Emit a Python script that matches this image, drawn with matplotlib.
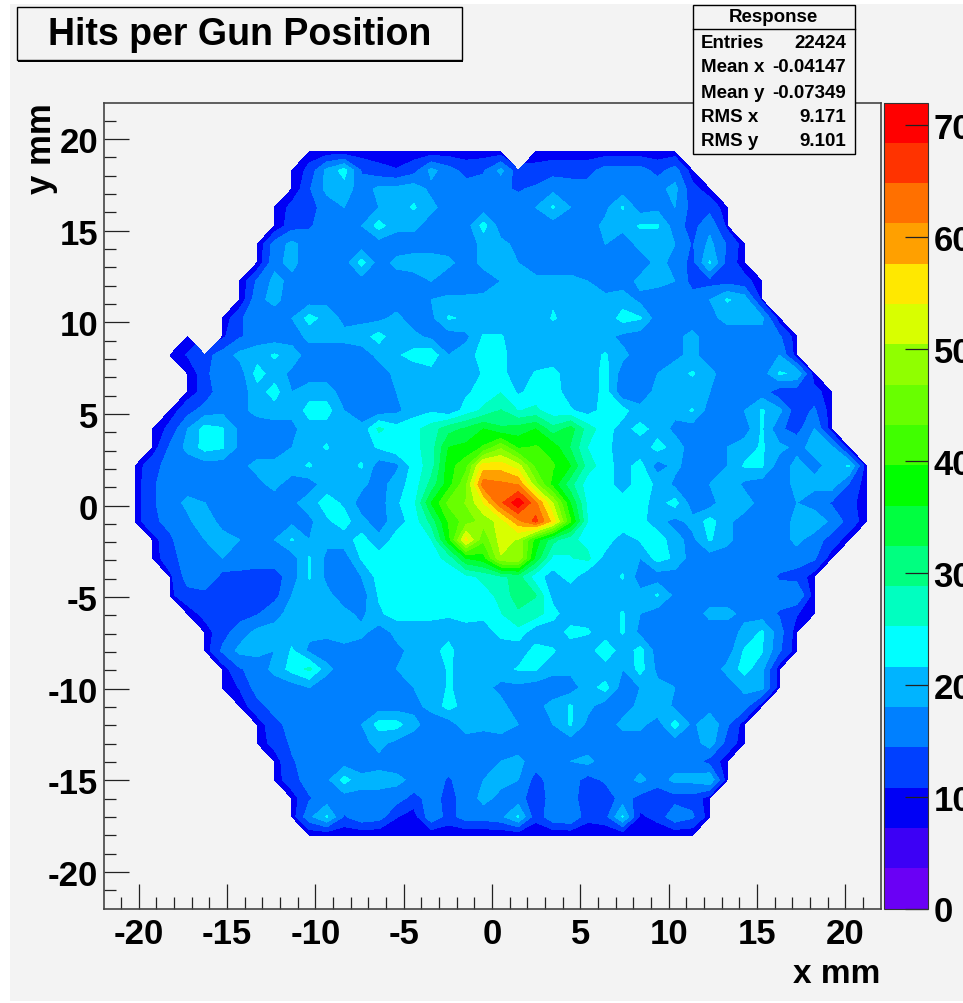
# Hits per gun position, contour map with stats box

import numpy as np
import matplotlib
matplotlib.use('Agg')
import matplotlib.pyplot as plt
from matplotlib.patches import Rectangle

plt.rcParams['font.family'] = ['Liberation Sans', 'DejaVu Sans']
plt.rcParams['font.weight'] = 'bold'
plt.rcParams['axes.unicode_minus'] = False

W, H = 963, 1004
BG = '#f3f3f3'

x_first, x_last, n_cols = -20.2, 21.2, 43
y_first, y_last = 19.3, -18.0

# first filled bin of each row, 0 inside a row is an empty bin
first_bin = [10, 9, 9, 8, 8, 7, 7, 6, 6, 5, 3, 2, 3, 3, 2, 1, 1, 0, 0, 0,
             0, 1, 1, 2, 2, 3, 4, 4, 5, 5, 6, 7, 7, 8, 8, 9, 9, 10]

hits_rows = [
    [9, 9, 9, 9, 9, 9, 9, 9, 9, 9, 9, 9, 0, 9, 9, 9, 9, 9, 9, 9, 9, 9],
    [8, 12, 19, 23, 14, 12, 11, 13, 19, 16, 13, 14, 19, 12, 12, 13, 13, 13, 16, 16, 16, 13, 16, 9],
    [8, 14, 19, 20, 16, 19, 19, 20, 17, 16, 16, 16, 15, 14, 15, 17, 16, 16, 16, 16, 16, 17, 19, 12, 9],
    [8, 12, 13, 16, 18, 16, 18, 20, 22, 19, 16, 16, 16, 16, 16, 18, 22, 18, 16, 17, 22, 16, 17, 18, 13, 13, 9],
    [8, 13, 14, 16, 18, 18, 23, 19, 19, 16, 16, 16, 23, 16, 16, 16, 16, 16, 16, 19, 19, 22, 22, 16, 13, 17, 10],
    [8, 16, 19, 16, 16, 16, 16, 16, 16, 16, 16, 16, 16, 19, 19, 17, 16, 16, 16, 16, 18, 16, 19, 19, 18, 14, 19, 14, 9],
    [8, 17, 19, 16, 16, 16, 23, 16, 19, 20, 20, 19, 16, 19, 19, 18, 16, 16, 16, 16, 18, 16, 16, 19, 17, 13, 22, 13, 9],
    [8, 15, 19, 17, 16, 16, 16, 16, 16, 16, 16, 18, 15, 15, 16, 18, 19, 19, 19, 19, 18, 16, 16, 19, 19, 18, 13, 13, 13, 12, 9],
    [8, 17, 19, 16, 16, 17, 16, 16, 16, 16, 16, 18, 19, 19, 19, 19, 19, 21, 21, 20, 19, 19, 20, 17, 16, 16, 16, 18, 22, 20, 10],
    [8, 14, 16, 16, 18, 23, 20, 17, 17, 17, 19, 16, 17, 22, 21, 19, 19, 19, 19, 22, 20, 19, 19, 23, 22, 16, 16, 16, 17, 19, 19, 19, 9],
    [9, 0, 10, 14, 16, 16, 16, 19, 19, 19, 20, 23, 19, 19, 17, 16, 17, 22, 22, 19, 19, 19, 19, 19, 19, 17, 16, 16, 17, 19, 16, 16, 16, 16, 15, 9],
    [9, 11, 13, 16, 19, 20, 22, 20, 16, 16, 16, 16, 19, 21, 23, 24, 18, 20, 23, 23, 19, 19, 19, 19, 20, 22, 19, 16, 16, 17, 19, 16, 16, 16, 16, 18, 9],
    [8, 13, 18, 16, 23, 20, 17, 16, 16, 16, 16, 16, 19, 19, 20, 20, 19, 22, 23, 19, 22, 23, 19, 19, 23, 16, 16, 18, 20, 22, 19, 16, 16, 16, 22, 21, 9],
    [9, 12, 17, 16, 20, 23, 18, 20, 20, 16, 16, 16, 18, 19, 20, 20, 21, 23, 25, 21, 23, 23, 20, 19, 23, 15, 16, 19, 19, 19, 18, 16, 15, 16, 12, 12, 12, 9],
    [9, 13, 16, 17, 17, 19, 20, 19, 23, 23, 18, 16, 16, 17, 20, 21, 19, 23, 26, 29, 25, 26, 23, 22, 20, 23, 23, 19, 19, 19, 22, 16, 16, 18, 22, 19, 12, 15, 9],
    [8, 12, 18, 23, 22, 17, 16, 16, 17, 20, 20, 21, 19, 26, 23, 24, 27, 31, 33, 36, 33, 34, 36, 30, 34, 27, 23, 20, 23, 20, 17, 16, 16, 17, 16, 22, 15, 13, 18, 9],
    [9, 15, 19, 23, 22, 17, 16, 16, 18, 20, 22, 18, 20, 22, 24, 24, 27, 36, 37, 40, 46, 39, 40, 38, 32, 25, 23, 19, 19, 23, 20, 16, 16, 18, 20, 22, 19, 17, 19, 19, 9],
    [9, 13, 16, 16, 16, 16, 17, 19, 19, 20, 22, 19, 20, 22, 16, 17, 23, 27, 38, 42, 56, 56, 52, 42, 40, 36, 27, 23, 20, 23, 16, 19, 16, 17, 18, 22, 22, 16, 19, 17, 19, 22, 9],
    [9, 14, 16, 16, 16, 16, 16, 17, 19, 16, 16, 20, 21, 19, 16, 20, 23, 30, 38, 46, 63, 62, 61, 48, 38, 30, 23, 23, 20, 23, 21, 17, 16, 18, 21, 17, 16, 16, 19, 19, 20, 14, 9],
    [9, 14, 16, 19, 18, 16, 16, 16, 16, 17, 20, 23, 21, 16, 16, 21, 24, 36, 44, 47, 54, 64, 71, 62, 50, 36, 24, 23, 23, 23, 20, 23, 16, 16, 21, 20, 16, 16, 18, 16, 14, 12, 9],
    [9, 14, 15, 17, 21, 16, 16, 17, 17, 17, 17, 21, 23, 19, 16, 20, 23, 30, 40, 45, 48, 52, 60, 66, 56, 40, 25, 23, 25, 23, 19, 17, 19, 23, 19, 16, 16, 16, 19, 21, 17, 13, 9],
    [9, 14, 16, 18, 20, 18, 18, 18, 22, 18, 19, 20, 23, 19, 23, 23, 25, 38, 55, 44, 52, 50, 38, 30, 26, 24, 24, 19, 22, 24, 19, 17, 22, 19, 16, 16, 16, 19, 16, 13, 9],
    [9, 13, 16, 16, 18, 17, 16, 16, 16, 22, 17, 16, 22, 23, 23, 23, 24, 26, 36, 38, 50, 50, 35, 24, 25, 26, 20, 20, 18, 23, 21, 16, 16, 16, 16, 16, 16, 16, 15, 9],
    [10, 16, 18, 13, 13, 13, 13, 16, 22, 17, 16, 18, 23, 23, 23, 23, 23, 24, 26, 28, 30, 23, 20, 23, 19, 19, 22, 16, 16, 16, 16, 16, 16, 16, 16, 14, 13, 9],
    [10, 13, 13, 12, 12, 12, 13, 18, 19, 19, 16, 16, 22, 23, 23, 23, 23, 23, 24, 26, 31, 29, 20, 19, 19, 19, 19, 19, 22, 17, 16, 16, 16, 16, 16, 16, 18, 9],
    [9, 12, 13, 13, 14, 17, 19, 19, 19, 19, 17, 21, 23, 23, 23, 22, 23, 23, 25, 28, 27, 23, 19, 20, 19, 22, 18, 16, 16, 16, 19, 19, 17, 16, 14, 11, 9],
    [9, 13, 16, 19, 19, 20, 19, 19, 21, 19, 16, 19, 19, 19, 20, 20, 19, 23, 24, 19, 19, 23, 22, 19, 22, 17, 16, 16, 16, 16, 16, 19, 22, 16, 9],
    [9, 15, 19, 19, 18, 22, 17, 16, 16, 16, 16, 17, 19, 20, 23, 18, 19, 19, 19, 23, 22, 19, 19, 25, 19, 23, 16, 16, 16, 16, 16, 22, 22, 15, 9],
    [9, 14, 16, 19, 23, 26, 19, 16, 16, 16, 18, 19, 19, 22, 20, 19, 20, 22, 22, 19, 19, 19, 19, 18, 23, 17, 16, 16, 16, 19, 23, 19, 9],
    [9, 11, 16, 16, 16, 18, 16, 16, 16, 16, 16, 18, 19, 22, 20, 19, 17, 17, 16, 16, 16, 20, 23, 16, 18, 19, 18, 16, 16, 16, 19, 19, 9],
    [9, 13, 16, 16, 16, 18, 17, 16, 16, 16, 17, 19, 23, 20, 19, 19, 16, 17, 19, 22, 19, 16, 16, 19, 21, 17, 16, 16, 16, 16, 9],
    [9, 13, 16, 16, 17, 16, 18, 23, 23, 19, 16, 16, 20, 19, 19, 18, 16, 18, 22, 17, 16, 19, 19, 16, 23, 17, 21, 15, 9],
    [9, 12, 15, 16, 16, 16, 17, 19, 17, 16, 16, 16, 16, 16, 17, 16, 16, 16, 16, 16, 16, 16, 16, 16, 16, 16, 20, 13, 9],
    [9, 14, 16, 16, 16, 16, 17, 16, 16, 16, 16, 16, 16, 18, 19, 16, 16, 18, 19, 16, 16, 16, 16, 16, 16, 13, 9],
    [9, 13, 16, 17, 23, 19, 19, 19, 17, 16, 14, 16, 18, 19, 18, 13, 16, 16, 13, 15, 16, 19, 16, 19, 19, 21, 9],
    [9, 14, 16, 16, 17, 17, 16, 13, 16, 13, 16, 19, 17, 16, 12, 16, 16, 12, 12, 16, 13, 12, 13, 13, 9],
    [9, 17, 22, 14, 17, 16, 11, 9, 17, 13, 16, 16, 17, 22, 12, 17, 18, 12, 13, 22, 10, 12, 17, 15, 9],
    [8, 8, 8, 8, 8, 8, 8, 8, 8, 8, 8, 8, 8, 8, 8, 8, 8, 8, 8, 8, 8, 8, 8],
]

z_levels = [0, 3.6, 7.2, 10.8, 14.4, 18, 21.6, 25.2, 28.8, 32.4, 36, 39.6,
            43.2, 46.8, 50.4, 54, 57.6, 61.2, 64.8, 68.4, 72]
z_colors = ['#6a00f5', '#3c00f5', '#0000f5', '#0040ff', '#0080ff', '#00b4ff', '#00ffff',
            '#00ffc0', '#00ff80', '#00ff40', '#00ff00', '#40ff00', '#68ff00', '#90ff00',
            '#d8ff00', '#ffe800', '#ffa000', '#ff7000', '#ff3300', '#ff0000']

stat_names = ['Entries', 'Mean x', 'Mean y', 'RMS x', 'RMS y']
stat_values = ['22424', '-0.04147', '-0.07349', '9.171', '9.101']


def box(px0, py0, px1, py1):
    return [px0 / W, 1 - py1 / H, (px1 - px0) / W, (py1 - py0) / H]


def px_text(fig, px, py, s, **kw):
    fig.text(px / W, 1 - py / H, s, **kw)


hits = np.zeros((len(hits_rows), n_cols))
for r, row in enumerate(hits_rows):
    hits[r, first_bin[r]:first_bin[r] + len(row)] = row
hits = np.ma.masked_equal(hits, 0)

x_bins = np.linspace(x_first, x_last, n_cols)
y_bins = np.linspace(y_first, y_last, len(hits_rows))

fig = plt.figure(figsize=(W / 100, H / 100), dpi=100, facecolor='white')
fig.add_artist(Rectangle((10 / W, 2 / H), 1, (H - 7) / H, transform=fig.transFigure,
                         facecolor=BG, edgecolor='none', zorder=-5))

ax = fig.add_axes(box(103.5, 103.5, 880.5, 909.5), facecolor=BG)
cs = ax.contourf(x_bins, y_bins, hits, levels=z_levels, colors=z_colors)
ax.set_xlim(-22, 22)
ax.set_ylim(-22, 22)
ax.set_xticks(np.arange(-20, 21, 5))
ax.set_yticks(np.arange(-20, 21, 5))
ax.set_xticks(np.arange(-21, 22, 1), minor=True)
ax.set_yticks(np.arange(-21, 22, 1), minor=True)
ax.tick_params(which='major', direction='in', length=18, width=0.9, color='#222222',
               labelsize=25)
ax.tick_params(which='minor', direction='in', length=8.5, width=0.9, color='#222222')
ax.tick_params(axis='x', which='major', pad=6)
ax.tick_params(axis='y', which='major', pad=4)
for lab in ax.get_yticklabels():
    lab.set_y(lab.get_position()[1])
for sp in ax.spines.values():
    sp.set_color('#444444')
    sp.set_linewidth(1.2)

px_text(fig, 880, 975, 'x mm', fontsize=24, ha='right', va='center')
px_text(fig, 41, 103, 'y mm', fontsize=25, ha='center', va='top', rotation=90)

cax = fig.add_axes(box(884, 103.5, 928, 909.5))
cbar = fig.colorbar(cs, cax=cax)
cbar.set_ticks(np.arange(0, 71, 10))
cbar.ax.tick_params(which='major', direction='in', length=16.5, width=0.9, color='#222222',
                    labelsize=25, pad=4)
cbar.ax.minorticks_off()
cbar.outline.set_edgecolor('#333333')
cbar.outline.set_linewidth(0.8)

# title box
fig.add_artist(Rectangle((18 / W, 1 - 62.5 / H), 445 / W, 54 / H, transform=fig.transFigure,
                         facecolor='black', edgecolor='none', zorder=5))
fig.add_artist(Rectangle((17 / W, 1 - 61 / H), 445 / W, 53 / H, transform=fig.transFigure,
                         facecolor=BG, edgecolor='black', linewidth=1, zorder=6))
px_text(fig, 240, 35, 'Hits per Gun Position', fontsize=27, ha='center', va='center', zorder=7)

# stats box
fig.add_artist(Rectangle((694 / W, 1 - 156 / H), 162 / W, 150 / H, transform=fig.transFigure,
                         facecolor='black', edgecolor='none', zorder=5))
fig.add_artist(Rectangle((693 / W, 1 - 154.5 / H), 162 / W, 149 / H, transform=fig.transFigure,
                         facecolor=BG, edgecolor='black', linewidth=1, zorder=6))
fig.add_artist(plt.Line2D([693 / W, 855 / W], [1 - 30 / H, 1 - 30 / H], transform=fig.transFigure,
                          color='black', linewidth=1, zorder=7))
px_text(fig, 773, 18, 'Response', fontsize=13.5, ha='center', va='center', zorder=7)
stat_py = [44, 68, 93, 118, 142]
for name, value, py in zip(stat_names, stat_values, stat_py):
    px_text(fig, 701, py, name, fontsize=13.5, ha='left', va='center', zorder=7)
    px_text(fig, 846, py, value, fontsize=13.5, ha='right', va='center', zorder=7)

fig.savefig('out.png', dpi=100, facecolor=fig.get_facecolor())
